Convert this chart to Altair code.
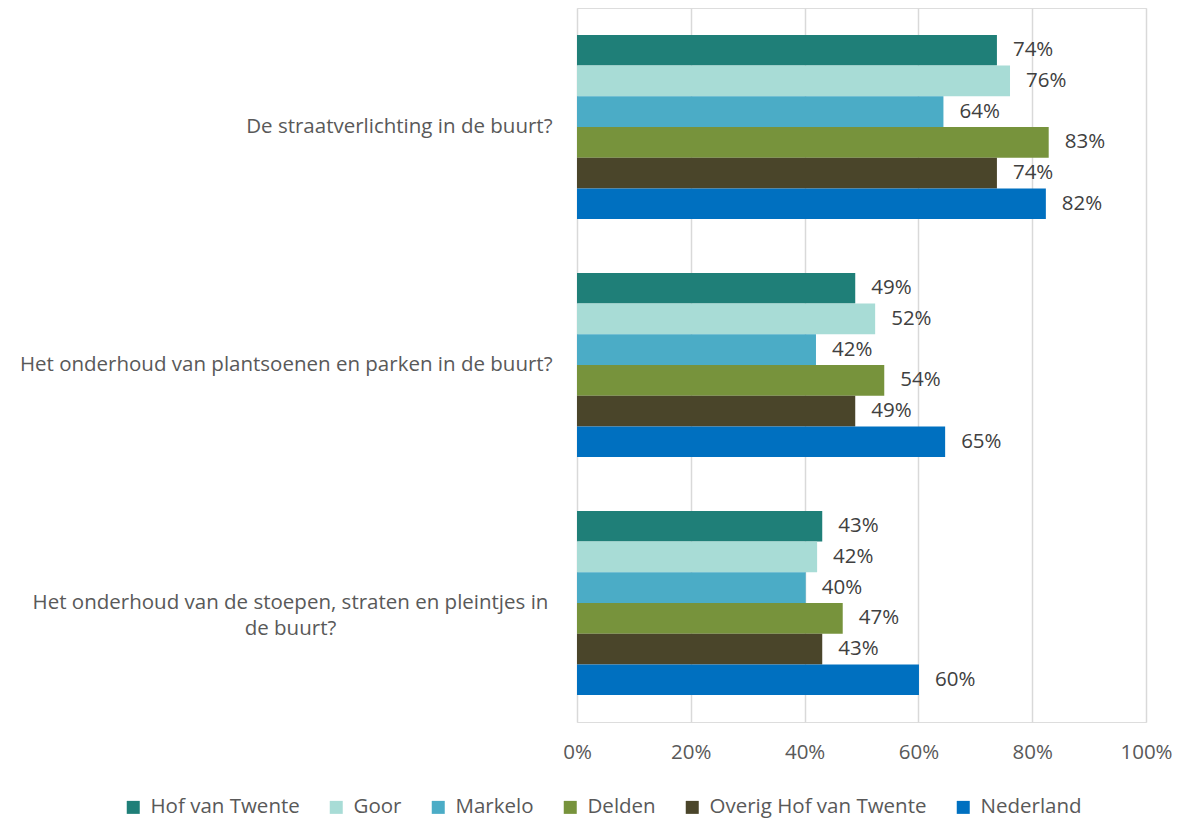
import altair as alt
import pandas as pd

questions = [
    "De straatverlichting in de buurt?",
    "Het onderhoud van plantsoenen en parken in de buurt?",
    "Het onderhoud van de stoepen, straten en pleintjes in de buurt?",
]
series = ["Hof van Twente", "Goor", "Markelo", "Delden", "Overig Hof van Twente", "Nederland"]
colors = ["#1F7F78", "#A8DCD6", "#4BACC6", "#77933C", "#4A452A", "#0070C0"]

hof_van_twente = [73.8, 48.9, 43.1]
goor = [76.1, 52.4, 42.2]
markelo = [64.4, 42.0, 40.2]
delden = [82.9, 54.0, 46.7]
overig = [73.8, 48.9, 43.1]
nederland = [82.4, 64.7, 60.1]

values = [hof_van_twente, goor, markelo, delden, overig, nederland]
rows = []
for s, vals in zip(series, values):
    for q, v in zip(questions, vals):
        rows.append({"question": q, "series": s, "value": v})
df = pd.DataFrame(rows)

FONT = "Open Sans"
FS = 20.5
long_q = questions[2]

y_enc = alt.Y(
    "question:N",
    sort=questions,
    title=None,
    scale=alt.Scale(paddingInner=0.226, paddingOuter=0.113),
    axis=alt.Axis(
        ticks=False,
        domain=False,
        grid=False,
        labelFont=FONT,
        labelFontSize=FS,
        labelColor="#595959",
        labelLimit=1000,
        labelLineHeight=26,
        labelExpr=f"datum.value == '{long_q}' ? ['Het onderhoud van de stoepen, straten en pleintjes in', 'de buurt?'] : datum.label",
        labelAlign=alt.condition(f"datum.value == '{long_q}'", alt.value("center"), alt.value("right")),
        labelPadding=alt.condition(f"datum.value == '{long_q}'", alt.value(287), alt.value(25)),
    ),
)
yoff = alt.YOffset("series:N", sort=series, scale=alt.Scale(paddingInner=0, paddingOuter=0))

bars = alt.Chart(df).mark_bar().encode(
    x=alt.X(
        "value:Q",
        scale=alt.Scale(domain=[0, 100]),
        title=None,
        axis=alt.Axis(
            values=[0, 20, 40, 60, 80, 100],
            labelExpr="datum.value + '%'",
            labelFlush=False,
            ticks=False,
            domain=False,
            grid=True,
            gridColor="#D9D9D9",
            gridWidth=1.5,
            labelFont=FONT,
            labelFontSize=FS,
            labelColor="#595959",
            labelPadding=20,
        ),
    ),
    y=y_enc,
    yOffset=yoff,
    color=alt.Color(
        "series:N",
        sort=series,
        scale=alt.Scale(domain=series, range=colors),
        legend=alt.Legend(
            title=None,
            orient="none",
            direction="horizontal",
            legendX=-454,
            legendY=789,
            symbolType="square",
            symbolSize=169,
            symbolStrokeWidth=0,
            labelFont=FONT,
            labelFontSize=FS,
            labelColor="#595959",
            labelOffset=7,
            columnPadding=26,
            labelLimit=400,
        ),
    ),
)

labels = alt.Chart(df).mark_text(
    align="left", baseline="middle", dx=16, font=FONT, fontSize=FS, color="#404040"
).encode(
    x=alt.X("value:Q"),
    y=alt.Y("question:N", sort=questions),
    yOffset=alt.YOffset("series:N", sort=series),
    text=alt.Text("label:N"),
).transform_calculate(label="format(datum.value, '.0f') + '%'")

chart = (
    alt.layer(bars, labels)
    .properties(
        width=569,
        height=714,
        autosize=alt.AutoSizeParams(type="none"),
        padding={"left": 569, "top": 0, "right": 27, "bottom": 97},
    )
    .configure_view(stroke=None)
    .configure(background="white")
)

chart.save("out.html", embed_options={"renderer": "svg", "actions": False})
